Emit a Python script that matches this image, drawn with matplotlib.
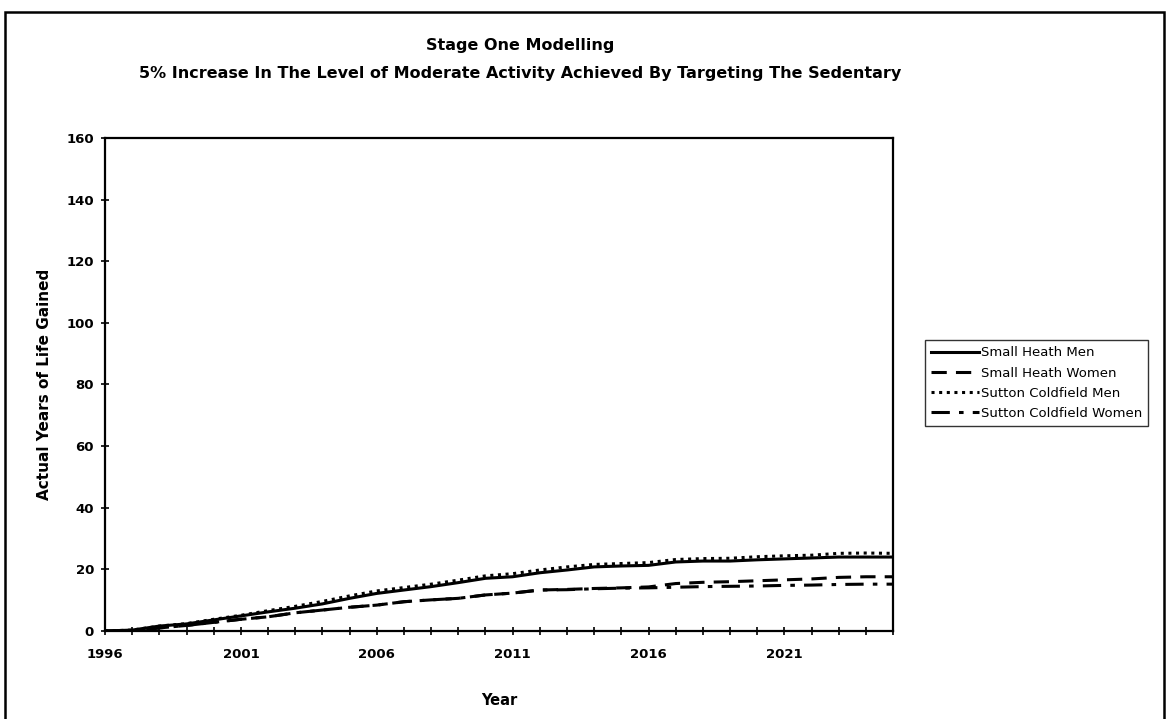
import numpy as np
import matplotlib
matplotlib.use("Agg")
import matplotlib.pyplot as plt
from matplotlib.patches import Rectangle

plt.rcParams['font.family'] = ['DejaVu Sans']

# data
years = list(range(1996, 2026))
small_heath_men = [0, 0.3, 1.6, 2.3, 3.6, 4.9, 6.2, 7.4, 8.8, 10.6,
                   12.2, 13.3, 14.4, 15.7, 17.1, 17.6, 18.9, 19.8, 20.8, 21.1,
                   21.3, 22.4, 22.7, 22.7, 23.1, 23.4, 23.7, 24.0, 24.0, 24.0]
small_heath_women = [0, 0, 1.0, 1.8, 2.8, 3.8, 4.6, 5.9, 6.8, 7.7,
                     8.4, 9.5, 10.1, 10.6, 11.7, 12.3, 13.3, 13.5, 13.8, 14.0,
                     14.3, 15.4, 15.8, 16.0, 16.3, 16.6, 16.9, 17.4, 17.6, 17.6]
sutton_men = [0, 0.3, 1.6, 2.4, 3.8, 5.1, 6.6, 8.0, 9.6, 11.4,
              13.0, 14.1, 15.2, 16.5, 17.9, 18.6, 19.8, 20.8, 21.6, 21.9,
              22.2, 23.2, 23.5, 23.6, 24.1, 24.4, 24.6, 25.2, 25.3, 25.2]
sutton_women = [0, 0, 1.0, 1.8, 2.8, 3.8, 4.6, 5.9, 6.8, 7.7,
                8.4, 9.5, 10.1, 10.6, 11.7, 12.3, 13.3, 13.4, 13.7, 13.9,
                14.0, 14.2, 14.4, 14.5, 14.6, 14.8, 14.9, 15.1, 15.2, 15.2]

series = [
    ("Small Heath Men", small_heath_men, '-'),
    ("Small Heath Women", small_heath_women, (0, (5, 3))),
    ("Sutton Coldfield Men", sutton_men, (0, (1, 1.5))),
    ("Sutton Coldfield Women", sutton_women, (0, (6, 3, 1.5, 3))),
]

fig = plt.figure(figsize=(11.71, 7.19), dpi=100)
ax = fig.add_axes([0.0897, 0.1224, 0.673, 0.6857])

for name, vals, ls in series:
    ax.plot(years, vals, color='black', linestyle=ls, linewidth=2.2, label=name)

ax.set_xlim(1996, 2025)
ax.set_ylim(0, 160)
ax.set_xticks(years)
ax.set_xticklabels([str(y) if (y - 1996) % 5 == 0 else '' for y in years])
ax.set_yticks(range(0, 161, 20))
ax.tick_params(axis='both', direction='inout', length=6, width=1.2,
               labelsize=9.5)
ax.tick_params(axis='x', pad=9)
ax.tick_params(axis='y', pad=5)
for lab in ax.get_xticklabels() + ax.get_yticklabels():
    lab.set_fontweight('bold')
for sp in ax.spines.values():
    sp.set_linewidth(1.6)

ax.set_xlabel("Year", fontsize=10.5, fontweight='bold', labelpad=23)
ax.set_ylabel("Actual Years of Life Gained", fontsize=11, fontweight='bold', labelpad=10)

fig.text(0.444, 0.937, "Stage One Modelling", ha='center', va='center',
         fontsize=11.5, fontweight='bold')
fig.text(0.444, 0.898,
         "5% Increase In The Level of Moderate Activity Achieved By Targeting The Sedentary",
         ha='center', va='center', fontsize=11.5, fontweight='bold')

leg = fig.legend(loc='center left', bbox_to_anchor=(0.79, 0.467), fontsize=9.5,
                 frameon=True, fancybox=False, edgecolor='black',
                 handlelength=3.6, borderpad=0.45, labelspacing=0.55,
                 handletextpad=0.2, borderaxespad=0)
leg.get_frame().set_linewidth(1.0)

# outer chart border
fig.patches.append(Rectangle((0.004, -0.01), 0.99, 0.993, transform=fig.transFigure,
                             fill=False, edgecolor='black', linewidth=1.8))

fig.savefig("out.png", dpi=100)
